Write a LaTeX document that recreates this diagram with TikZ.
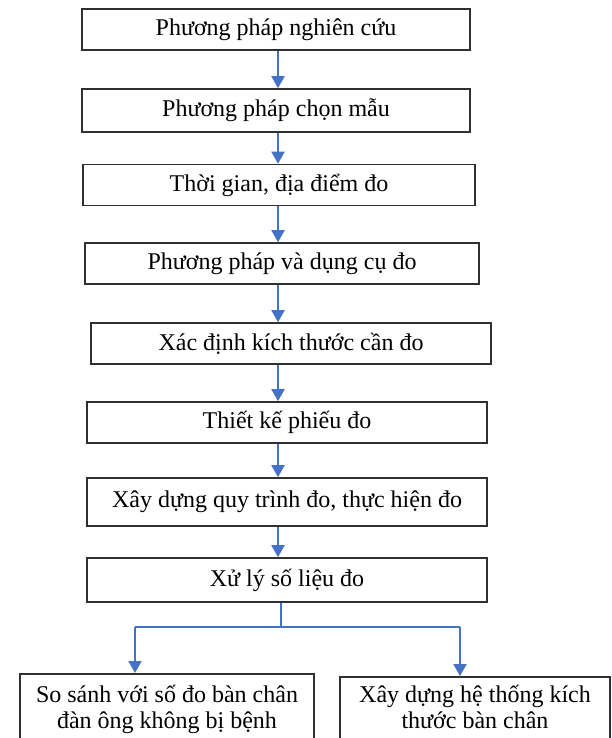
\documentclass[tikz,border=0pt]{standalone}
\usepackage{fontspec}
\setmainfont{Liberation Serif}
\usetikzlibrary{arrows.meta,calc}
\definecolor{arrblue}{HTML}{4472C4}
\definecolor{boxline}{HTML}{303030}
\begin{document}
\begin{tikzpicture}[x=1pt,y=-1pt,
  stepbox/.style={draw=boxline,line width=1.6pt,fill=white,inner sep=0pt,
    font=\fontsize{24}{27}\selectfont,align=center},
  arr/.style={draw=arrblue,line width=2pt,-{Triangle[width=13pt,length=12pt]}},
  lin/.style={draw=arrblue,line width=2pt}]
\useasboundingbox (0,0) rectangle (611,738);
\clip (0,0) rectangle (611,738);
\node[stepbox,minimum width=388pt,minimum height=41pt] (b1) at (276,29.5) {Phương pháp nghiên cứu};
\node[stepbox,minimum width=388pt,minimum height=43pt] (b2) at (276,110.5) {Phương pháp chọn mẫu};
\node[stepbox,minimum width=392pt,minimum height=41pt] (b3) at (279,185) {Thời gian, địa điểm đo};
\node[stepbox,minimum width=394pt,minimum height=41pt] (b4) at (282,263.5) {Phương pháp và dụng cụ đo};
\node[stepbox,minimum width=400pt,minimum height=41pt] (b5) at (291,343.5) {Xác định kích thước cần đo};
\node[stepbox,minimum width=400pt,minimum height=41pt] (b6) at (287,422.5) {Thiết kế phiếu đo};
\node[stepbox,minimum width=400pt,minimum height=48pt] (b7) at (287,502) {Xây dựng quy trình đo, thực hiện đo};
\node[stepbox,minimum width=400pt,minimum height=44pt] (b8) at (287,580) {Xử lý số liệu đo};
\node[stepbox,minimum width=294pt,minimum height=80pt,anchor=north] (b9) at (167,673) {};
\node[font=\fontsize{24}{26}\selectfont,align=center,anchor=base] (t9) at (167,728) {So sánh với số đo bàn chân\\đàn ông không bị bệnh};
\node[stepbox,minimum width=270pt,minimum height=80pt,anchor=north] (b10) at (475,676) {};
\node[font=\fontsize{24}{26}\selectfont,align=center,anchor=base] (t10) at (475,728) {Xây dựng hệ thống kích\\thước bàn chân};
\coordinate (ax) at (278,0);
\coordinate (bx) at (281,0);
\coordinate (jn) at (281,627);
\coordinate (jl) at (135,627);
\coordinate (jr) at (460,627);
\draw[arr] (b1.south -| ax) -- (b2.north -| ax);
\draw[arr] (b2.south -| ax) -- (b3.north -| ax);
\draw[arr] (b3.south -| ax) -- (b4.north -| ax);
\draw[arr] (b4.south -| ax) -- (b5.north -| ax);
\draw[arr] (b5.south -| ax) -- (b6.north -| ax);
\draw[arr] (b6.south -| ax) -- (b7.north -| ax);
\draw[arr] (b7.south -| ax) -- (b8.north -| ax);
\draw[lin] (b8.south -| bx) -- (jn);
\draw[lin] (jl) -- (jr);
\draw[arr] (jl) -- (b9.north -| jl);
\draw[arr] (jr) -- (b10.north -| jr);
\end{tikzpicture}
\end{document}
